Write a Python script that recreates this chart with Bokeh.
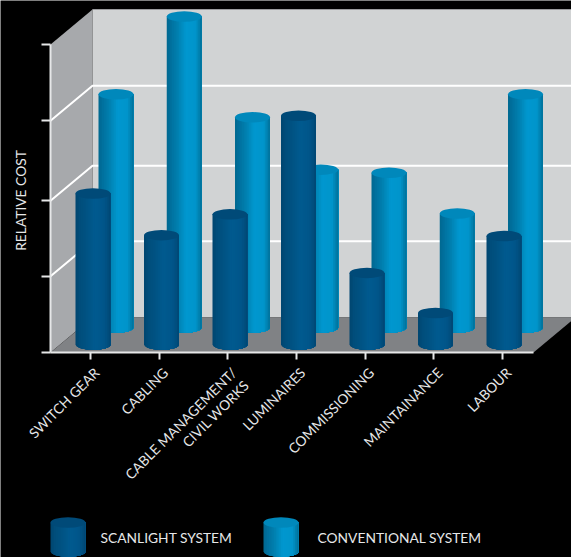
import numpy as np
from bokeh.core.properties import value
from bokeh.embed import file_html
from bokeh.models import FixedTicker, LinearAxis, Range1d
from bokeh.plotting import figure
from bokeh.resources import INLINE

# Chart data
categories = ["SWITCH GEAR", "CABLING", "CABLE MANAGEMENT/\nCIVIL WORKS", "LUMINAIRES",
              "COMMISSIONING", "MAINTAINANCE", "LABOUR"]
scanlight = [1.96, 1.42, 1.69, 2.97, 0.93, 0.41, 1.41]
conventional = [3.03, 4.04, 2.73, 2.05, 2.01, 1.48, 3.03]
cost_ticks = [0, 0.99, 1.97, 3.01, 4.0]
series_names = ["SCANLIGHT SYSTEM", "CONVENTIONAL SYSTEM"]

# Geometry: one category step and one cost unit, in pixels
W, H = 571, 557
STEP, UNIT = 68.67, 77.0
ORIGIN_X, ORIGIN_Y = 90.0, 352.0
to_x = lambda px: (px - ORIGIN_X) / STEP
to_y = lambda px: (ORIGIN_Y - px) / UNIT
DEPTH_X, DEPTH_Y = 42 / STEP, 35 / UNIT
CYL_W, CAP_H = 35 / STEP, 10.5 / UNIT

# Shading across a cylinder, left to right
DARK_STOPS = [(0, "#00466f"), (.12, "#004d7b"), (.3, "#005282"), (.55, "#005a8f"), (.8, "#00568a"), (.93, "#004e7e"), (1, "#004572")]
LIGHT_STOPS = [(0, "#00688f"), (.1, "#006f9c"), (.3, "#007fae"), (.55, "#0097cf"), (.82, "#0095cb"), (.93, "#007fae"), (1, "#006f97")]
DARK_CAP, LIGHT_CAP = "#004a78", "#0088bb"


def hex_mix(stops, t):
    pos = [s[0] for s in stops]
    rgb = np.array([[int(s[1][i:i + 2], 16) for i in (1, 3, 5)] for s in stops], float)
    return "#%02x%02x%02x" % tuple(int(round(np.interp(t, pos, rgb[:, k]))) for k in range(3))


p = figure(width=W, height=H, output_backend="svg", toolbar_location=None,
           x_range=Range1d(to_x(0), to_x(W)), y_range=Range1d(to_y(H), to_y(0)),
           min_border=0, outline_line_color=None, background_fill_color="black",
           border_fill_color="black", x_axis_location=None, y_axis_location=None)
p.grid.visible = False

# Walls and floor of the box
n_cat = len(categories)
x0 = to_x(50)
x_end = to_x(533)
top = cost_ticks[-1]
p.patch([x0, x0 + DEPTH_X, x0 + DEPTH_X, x0], [0, DEPTH_Y, top + DEPTH_Y, top],
        fill_color="#a7a9ac", line_color=None)
p.quad(left=x0 + DEPTH_X, right=to_x(W), bottom=DEPTH_Y, top=top + DEPTH_Y,
       fill_color="#d1d3d4", line_color=None)
p.line([x0 + DEPTH_X, to_x(W)], [top + DEPTH_Y, top + DEPTH_Y], line_color="#9a9b9d", line_width=1)
p.patch([x0, x_end, x_end + DEPTH_X, x0 + DEPTH_X], [0, 0, DEPTH_Y, DEPTH_Y],
        fill_color="#808285", line_color=None)

# Gridlines on the back and side walls
for v in cost_ticks[1:-1]:
    p.line([x0, x0 + DEPTH_X, to_x(W)], [v, v + DEPTH_Y, v + DEPTH_Y], line_color="white", line_width=2)


def cylinder(cx, base, height, stops, cap, strips=20):
    """Draw a shaded cylinder; each strip runs to the right edge and the next paints over it."""
    edges = np.linspace(-1, 1, strips + 1)
    xs, ys, colors = [], [], []
    for a, b in zip(edges[:-1], edges[1:]):
        arc = np.linspace(a, 1, 40)
        xs.append(list(cx + arc * CYL_W / 2) + [cx + CYL_W / 2, cx + a * CYL_W / 2])
        ys.append(list(base - np.sqrt(np.clip(1 - arc ** 2, 0, 1)) * CAP_H / 2) + [base + height, base + height])
        colors.append(hex_mix(stops, (a + b + 2) / 4))
    p.patches(xs, ys, fill_color=colors, line_color=None)
    p.ellipse(x=[cx], y=[base + height], width=CYL_W, height=CAP_H, fill_color=cap, line_color=None)


DARK_BASE = to_y(344)
LIGHT_BASE = to_y(327)

# Rear row first so the front row overlaps it
for i, v in enumerate(conventional):
    cylinder(to_x(115.5 + 68.25 * i), LIGHT_BASE, v, LIGHT_STOPS, LIGHT_CAP)
for i, v in enumerate(scanlight):
    cylinder(to_x(92.5 + 68.5 * i), DARK_BASE, v, DARK_STOPS, DARK_CAP)

# Axes pinned to the front edges of the box
font = "Lato"
size = "13.8px"
xaxis = LinearAxis(fixed_location=0, ticker=FixedTicker(ticks=list(range(n_cat))),
                   major_label_text_font_size="0px", major_label_text_color=None,
                   bounds=(x0, x_end),
                   axis_line_color="#e6e7e8", axis_line_width=2,
                   major_tick_line_color="#e6e7e8", major_tick_line_width=2,
                   major_tick_out=7, major_tick_in=0, minor_tick_line_color=None)
p.add_layout(xaxis, "below")
yaxis = LinearAxis(fixed_location=x0, ticker=FixedTicker(ticks=cost_ticks),
                   major_label_text_font_size="0px", major_label_text_color=None,
                   bounds=(0, top), axis_line_color="#e6e7e8", axis_line_width=2,
                   major_tick_line_color="#e6e7e8", major_tick_line_width=2,
                   major_tick_out=9, major_tick_in=0, minor_tick_line_color=None)
p.add_layout(yaxis, "left")

text_opts = dict(text_color="#e6e7e8", text_font=value(font), text_font_size=size, text_baseline="middle")

# Category labels, slanted, right end next to the tick; later lines step down along the normal
LABEL_DX, LABEL_DY, LINE_STEP = 6.0, 17.5, 12.5
for i, label in enumerate(categories):
    for k, line in enumerate(label.split("\n")):
        p.text(x=[i + (LABEL_DX + k * LINE_STEP) / STEP], y=[-(LABEL_DY + k * LINE_STEP) / UNIT], text=[line],
               angle=np.pi / 4, text_align="right", **text_opts)

p.text(x=[to_x(20)], y=[to_y(200)], text=["RELATIVE COST"], angle=np.pi / 2, text_align="center", **text_opts)

# Legend: a swatch cylinder and a caption per series
swatch_y = to_y(551)
swatch_h = to_y(522) - swatch_y
for cx_px, stops, cap, name, tx in [(67.5, DARK_STOPS, DARK_CAP, series_names[0], 100),
                                    (280.5, LIGHT_STOPS, LIGHT_CAP, series_names[1], 317)]:
    cylinder(to_x(cx_px), swatch_y, swatch_h, stops, cap)
    p.text(x=[to_x(tx)], y=[to_y(537)], text=[name], text_align="left", **text_opts)

open("out.html", "w").write(file_html(p, INLINE))
